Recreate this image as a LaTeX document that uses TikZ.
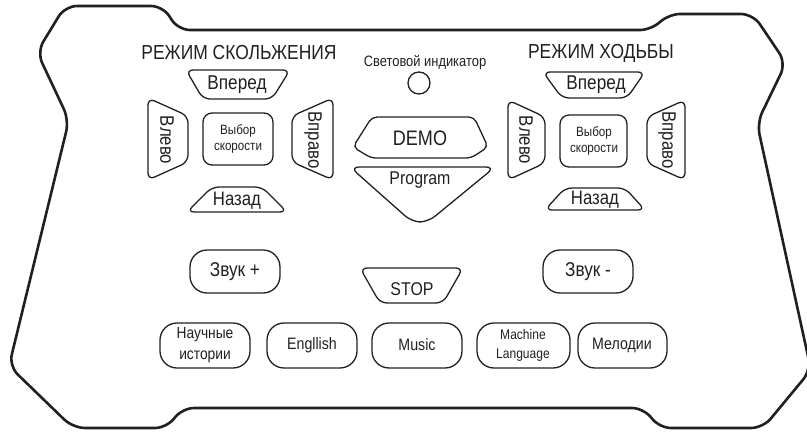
\documentclass[tikz,border=0pt]{standalone}
\usepackage{fontspec}
\setmainfont{Liberation Sans}[FakeStretch=0.86]
\definecolor{ink}{HTML}{231F20}
\begin{document}
\begin{tikzpicture}[x=1pt,y=-1pt,
  outline/.style={draw=ink, line width=2.6pt, rounded corners=12pt},
  btn/.style={draw=ink, line width=1.3pt, rounded corners=7pt},
  pill/.style={draw=ink, line width=1.3pt, rounded corners=17pt},
  fs/.style={font=\fontsize{#1}{#1}\selectfont},
  lbl/.style={inner sep=0pt, text=ink, align=center},
]
\useasboundingbox (0,0) rectangle (807,434);

% outer outline
\draw[outline] (163,6) -- (65,6) -- (37,52) -- (69,120) -- (9,366) -- (73,428)
  -- (167,428) -- (182,408) -- (644,408) -- (659,428) -- (763,428)
  -- (811,370) -- (757,123) -- (786,63) -- (753,14) -- (668,14) -- (652,30)
  -- (178,30) -- cycle;

% ---- left panel ----
\node[lbl, fs=20.3] (tl) at (239,53) {РЕЖИМ СКОЛЬЖЕНИЯ};
\draw[btn] (186,70) -- (290,70) -- (272,99) -- (203,99) -- cycle;
\node[lbl, fs=20] (fl) at (237,85) {Вперед};
\draw[btn] (148,98) -- (188,116) -- (188,162) -- (148,180) -- cycle;
\node[lbl, fs=19.5, rotate=-90] (ll) at (167,140) {Влево};
\draw[btn] (333,98) -- (292,116) -- (292,162) -- (333,180) -- cycle;
\node[lbl, fs=19.5, rotate=-90] (rl) at (313,140) {Вправо};
\draw[btn, rounded corners=9pt] (203,113) rectangle (273,165);
\node[lbl, font=\fontsize{13.5}{16.5}\selectfont] (sl) at (238,139) {Выбор\\скорости};
\draw[btn] (212,187) -- (262,187) -- (287,212) -- (187,212) -- cycle;
\node[lbl, fs=19.5] (bl) at (237,201) {Назад};

% ---- right panel ----
\node[lbl, fs=20.3] (tr) at (601,53) {РЕЖИМ ХОДЬБЫ};
\draw[btn] (543,72) -- (645,72) -- (627,98) -- (562,98) -- cycle;
\node[lbl, fs=20] (fr) at (596,85) {Вперед};
\draw[btn] (508,100) -- (545,117) -- (545,163) -- (508,180) -- cycle;
\node[lbl, fs=19.5, rotate=-90] (lr) at (526,140) {Влево};
\draw[btn] (685,100) -- (647,117) -- (647,163) -- (685,180) -- cycle;
\node[lbl, fs=19.5, rotate=-90] (rr) at (667,140) {Вправо};
\draw[btn, rounded corners=9pt] (560,115) rectangle (627,167);
\node[lbl, font=\fontsize{13.5}{16.5}\selectfont] (sr) at (594,141) {Выбор\\скорости};
\draw[btn] (565,188) -- (625,188) -- (645,210) -- (545,210) -- cycle;
\node[lbl, fs=19.5] (br) at (595,200) {Назад};

% ---- centre ----
\node[lbl, fs=15] (ind) at (425,62) {Световой индикатор};
\node[draw=ink, line width=1.3pt, circle, minimum size=22pt, inner sep=0pt] (led) at (419,83) {};
\draw[btn, rounded corners=5pt] (372,117) -- (474,117) -- (488,147) -- (471,158)
  -- (371,158) -- (353,147) -- cycle;
\node[lbl, fs=21] (demo) at (420,138) {DEMO};
\draw[btn, rounded corners=9pt] (350,167) -- (495,167) -- (428,222) -- (412,222) -- cycle;
\node[lbl, fs=18.5] (prog) at (420,180) {Program};

% ---- lower buttons ----
\draw[pill] (190,250) rectangle (280,293);
\node[lbl, fs=20] (vp) at (235,272) {Звук +};
\draw[btn] (360,268) -- (463,268) -- (443,303) -- (380,303) -- cycle;
\node[lbl, fs=18.5] (stop) at (412,289) {STOP};
\draw[pill] (543,250) rectangle (633,293);
\node[lbl, fs=20] (vm) at (588,272) {Звук -};

\draw[pill] (160,323) rectangle (250,368);
\node[lbl, font=\fontsize{16}{21}\selectfont] (b1) at (205,345) {Научные\\истории};
\draw[pill] (267,323) rectangle (357,368);
\node[lbl, fs=16.5] (b2) at (312,345) {Engllish};
\draw[pill] (372,323) rectangle (462,368);
\node[lbl, fs=16.5] (b3) at (417,345) {Music};
\draw[pill] (477,323) rectangle (570,368);
\node[lbl, font=\fontsize{14}{19}\selectfont] (b4) at (523,345) {Machine\\Language};
\draw[pill] (578,323) rectangle (667,368);
\node[lbl, fs=16.5] (b5) at (622,345) {Мелодии};
\end{tikzpicture}
\end{document}
